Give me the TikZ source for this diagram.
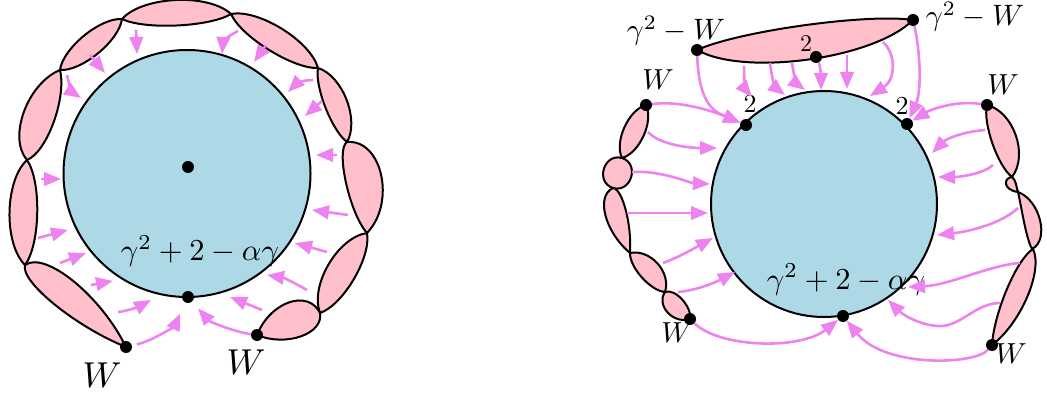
\documentclass[tikz,border=0pt]{standalone}
\usetikzlibrary{calc,arrows.meta}
\definecolor{blobpink}{RGB}{255,192,203}
\definecolor{diskblue}{RGB}{173,216,230}
\definecolor{arrviolet}{RGB}{238,130,238}
\tikzset{
 blobst/.style={draw=black,line width=2pt,fill=blobpink,line join=round},
 disk/.style={draw=black,line width=2pt,fill=diskblue},
 flow/.style={draw=arrviolet,line width=2.6pt,-{Triangle[length=17pt,width=13.5pt]}},
 dot/.style={circle,fill=black,inner sep=0pt,minimum size=12pt},
 lbl/.style={inner sep=0pt,anchor=base},
}
% lens-shaped blob: A, B, left bulge, right bulge, t1, t2
\newcommand\lensblob[6]{\draw[blobst] (#1) .. controls ($(#1)!#5!(#2)!#3pt!90:(#2)$) and ($(#1)!#6!(#2)!#3pt!90:(#2)$) .. (#2) .. controls ($(#1)!#6!(#2)!#4pt!-90:(#2)$) and ($(#1)!#5!(#2)!#4pt!-90:(#2)$) .. (#1) -- cycle;}
\begin{document}
\begin{tikzpicture}[x=1pt,y=-1pt]
\useasboundingbox (0,0) rectangle (1047,398);
% ---------- left figure ----------
\lensblob{126,347}{25,265}{16}{24}{0.4}{0.95}
\lensblob{25,265}{27,160}{22}{15}{0.2}{0.8}
\lensblob{27,160}{60,70}{26}{16}{0.15}{0.75}
\lensblob{60,70}{122,19}{15}{15}{0.2}{0.8}
\lensblob{122,19}{231,14}{22}{12}{0.2}{0.8}
\lensblob{231,14}{318,68}{19}{14}{0.2}{0.8}
\lensblob{318,68}{347,142}{20}{10}{0.2}{0.8}
\lensblob{347,142}{367,233}{35}{13}{0.05}{0.75}
\lensblob{367,233}{320,313}{16}{23}{0.2}{0.8}
\lensblob{320,313}{257,335}{21}{27}{0.05}{0.65}
\draw[disk] (187,173.5) circle[radius=123.5];
\node[lbl,scale=3.05] (lab1) at (200,261) {$\gamma^2+2-\alpha\gamma$};
\node[lbl,scale=3.6] (lw1) at (102,387) {$W$};
\node[lbl,scale=3.6] (lw2) at (246,374) {$W$};
\node[dot] (LC) at (188,167) {};
\node[dot] (L0) at (188,297) {};
\node[dot] (W1) at (126,347) {};
\node[dot] (W2) at (257,335) {};
\draw[flow] (136,30) -- (137,54);
\draw[flow] (90,55) -- (105,73);
\draw[flow] (67,75) .. controls (70,88) and (72,92) .. (81,98);
\draw[flow] (238,31) .. controls (228,36) and (223,42) .. (222,54);
\draw[flow] (266,45) -- (254,62);
\draw[flow] (313,80) .. controls (302,80) and (296,84) .. (288,92);
\draw[flow] (322,101) -- (305,116);
\draw[flow] (337,155) -- (316,155);
\draw[flow] (41,179) -- (61,179);
\draw[flow] (38,238) -- (68,230);
\draw[flow] (60,263) -- (86,253);
\draw[flow] (91,285) -- (113,281);
\draw[flow] (118,312) .. controls (128,311) and (140,306) .. (151,300);
\draw[flow,shorten <=5pt,shorten >=12pt] (W1) .. controls (155,340) and (175,325) .. (L0);
\draw[flow,shorten >=9pt] (W2) .. controls (235,332) and (210,322) .. (L0);
\draw[flow] (262,310) -- (230,297);
\draw[flow] (307,290) .. controls (298,285) and (285,278) .. (267,275);
\draw[flow] (327,252) -- (295,243);
\draw[flow] (348,215) -- (312,210);
% ---------- right figure ----------
\lensblob{697,50}{913,20}{13}{33}{0.2}{0.8}
\lensblob{646,105}{622,158}{14}{14}{0.2}{0.8}
\lensblob{622,158}{613,188}{19}{19}{0.01}{0.99}
\lensblob{613,188}{630,253}{9}{19}{0.05}{0.6}
\lensblob{630,253}{665,292}{18}{10}{0.2}{0.8}
\lensblob{665,292}{690,319}{10}{16}{0.1}{0.8}
\lensblob{987,105}{1012,177}{23}{10}{0.2}{0.8}
\draw[blobst] (1012,177) .. controls (1003,178) and (1003,190) .. (1018,192)
  .. controls (1040,200) and (1050,240) .. (1032,249)
  .. controls (1026,238) and (1022,210) .. (1018,192)
  .. controls (1016,186) and (1016,180) .. (1012,177) -- cycle;
\lensblob{1033,249}{992,345}{18}{11}{0.15}{0.7}
\draw[disk] (824,204) circle[radius=113];
\node[lbl,scale=3.05] (lab2) at (846,289) {$\gamma^2+2-\alpha\gamma$};
\node[lbl,scale=2.95] (lg1) at (676,40) {$\gamma^2-W$};
\node[lbl,scale=2.95] (lg2) at (975,26) {$\gamma^2-W$};
\node[lbl,scale=2.4] (l2a) at (806,52) {$2$};
\node[lbl,scale=2.6] (l2b) at (750,113) {$2$};
\node[lbl,scale=2.6] (l2c) at (902,115) {$2$};
\node[lbl,scale=2.9] (lw3) at (658,90) {$W$};
\node[lbl,scale=2.9] (lw4) at (1003,95) {$W$};
\node[lbl,scale=2.9] (lw5) at (677,342) {$W$};
\node[lbl,scale=2.9] (lw6) at (1011,363) {$W$};
\node[dot] (TL) at (697,50) {};
\node[dot] (TM) at (816,57) {};
\node[dot] (TR) at (913,20) {};
\node[dot] (C2L) at (746,125) {};
\node[dot] (C2R) at (907,124) {};
\node[dot] (B) at (843,316) {};
\node[dot] (WL1) at (646,105) {};
\node[dot] (WL2) at (690,319) {};
\node[dot] (WR1) at (987,105) {};
\node[dot] (WR2) at (992,345) {};
\draw[flow] (TL) .. controls (699,105) and (715,112) .. (C2L);
\draw[flow] (744,66) .. controls (744,82) and (746,90) .. (752,97);
\draw[flow] (770,63) .. controls (772,80) and (776,88) .. (785,95);
\draw[flow] (792,63) .. controls (794,77) and (797,84) .. (805,90);
\draw[flow] (TM) .. controls (820,65) and (821,75) .. (821,90);
\draw[flow] (847,55) -- (847,89);
\draw[flow] (883,42) .. controls (897,55) and (895,80) .. (870,96);
\draw[flow] (TR) .. controls (920,50) and (922,90) .. (C2R);
\draw[flow] (WL1) .. controls (680,100) and (715,112) .. (C2L);
\draw[flow] (648,132) .. controls (660,145) and (690,148) .. (717,148);
\draw[flow] (632,172) .. controls (660,170) and (690,183) .. (710,184);
\draw[flow] (627,213) -- (708,213);
\draw[flow] (663,263) .. controls (680,257) and (700,245) .. (713,238);
\draw[flow] (678,292) .. controls (700,290) and (720,280) .. (735,272);
\draw[flow] (WL2) .. controls (720,348) and (800,350) .. (B);
\draw[flow] (WR1) .. controls (955,100) and (930,110) .. (C2R);
\draw[flow] (985,130) .. controls (960,132) and (945,140) .. (932,153);
\draw[flow] (993,165) .. controls (983,174) and (960,177) .. (938,177);
\draw[flow] (1018,208) .. controls (1000,225) and (965,232) .. (937,235);
\draw[flow] (1020,263) .. controls (990,265) and (950,285) .. (908,287);
\draw[flow] (1000,303) .. controls (975,303) and (960,328) .. (937,326)
  .. controls (915,324) and (900,312) .. (888,300);
\draw[flow] (WR2) .. controls (975,365) and (885,368) .. (B);
\end{tikzpicture}
\end{document}
